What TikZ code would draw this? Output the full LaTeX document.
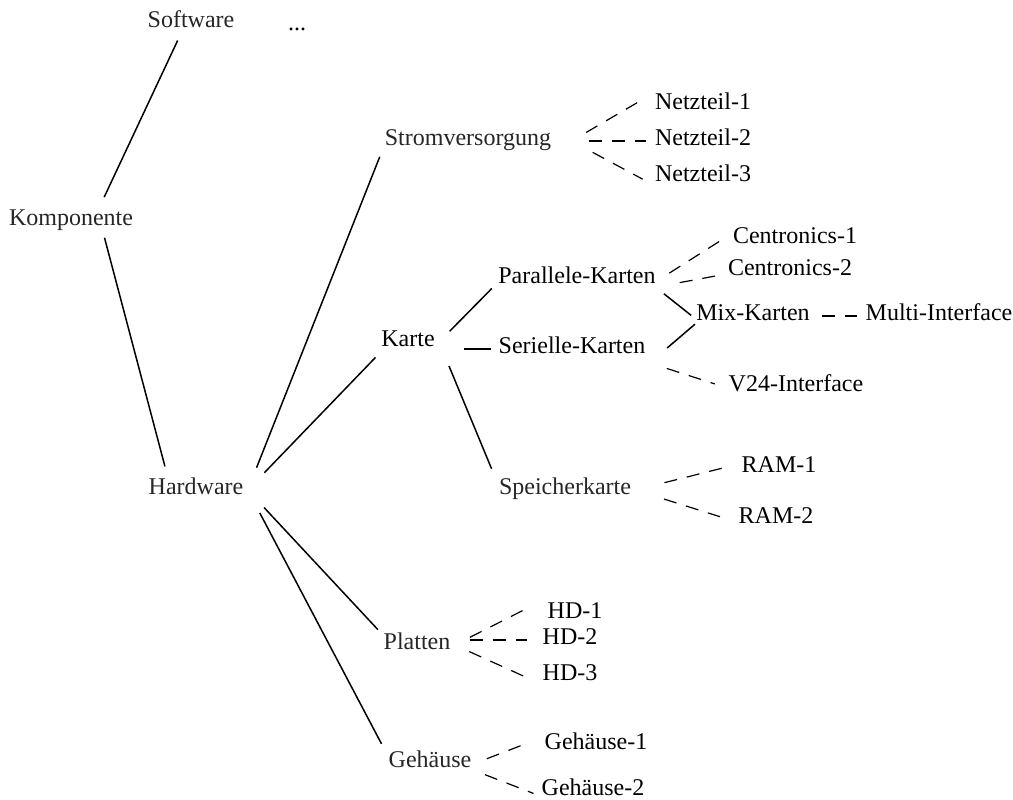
\documentclass[tikz,border=0pt]{standalone}
\usepackage{fontspec}
\setmainfont{Liberation Serif}
\usepackage{tikz}

\definecolor{innergray}{gray}{0.15}

\begin{document}
\begin{tikzpicture}[x=0.5pt,y=-0.5pt,
        lbl/.style={inner sep=2pt, text height=0.7em, text depth=0.25em,
                    font=\fontsize{12}{14}\selectfont},
        inner/.style={lbl, text=innergray},
        branch/.style={line width=0.75pt},
        leafline/.style={line width=0.6pt, dash pattern=on 6.5pt off 5pt}]
        \useasboundingbox (0,0) rectangle (1013,799);
        % upper levels
        \node[inner] (soft) at (191,23) {Software};
        \node[lbl] (dots) at (297,26) {...};
        \node[inner] (komp) at (71,221) {Komponente};
        \node[inner] (hw) at (196,490) {Hardware};
        \node[inner] (strom) at (468,141) {Stromversorgung};
        \node[lbl] (karte) at (408,342) {Karte};
        \node[inner] (platten) at (417,645) {Platten};
        \node[inner] (geh) at (430,763) {Geh\"ause};
        % cards
        \node[lbl] (par) at (577,279) {Parallele-Karten};
        \node[lbl] (ser) at (572,349) {Serielle-Karten};
        \node[inner] (speich) at (565,490) {Speicherkarte};
        \node[lbl] (mix) at (753,316) {Mix-Karten};
        % leaves
        \node[lbl] (n1) at (703,105) {Netzteil-1};
        \node[lbl] (n2) at (703,141) {Netzteil-2};
        \node[lbl] (n3) at (703,177) {Netzteil-3};
        \node[lbl] (cen1) at (795,239) {Centronics-1};
        \node[lbl] (cen2) at (790,271) {Centronics-2};
        \node[lbl] (multi) at (939,316) {Multi-Interface};
        \node[lbl] (v24) at (796,387) {V24-Interface};
        \node[lbl] (ram1) at (779,468) {RAM-1};
        \node[lbl] (ram2) at (776,519) {RAM-2};
        \node[lbl] (hd1) at (575,614) {HD-1};
        \node[lbl] (hd2) at (570,640) {HD-2};
        \node[lbl] (hd3) at (570,676) {HD-3};
        \node[lbl] (geh1) at (596,745) {Geh\"ause-1};
        \node[lbl] (geh2) at (593,791) {Geh\"ause-2};

        % solid branches
        \draw[branch, shorten <=2pt, shorten >=5.5pt] (soft.230) -- (komp.26);
        \draw[branch, shorten <=1.5pt, shorten >=5pt] (komp.337) -- (hw.154);
        \draw[branch, shorten <=12pt, shorten >=1pt] (hw.east) -- (strom.south west);
        \draw[branch, shorten <=12pt, shorten >=1pt] (hw.east) -- (karte.south west);
        \draw[branch, shorten <=12pt, shorten >=1pt] (hw.east) -- (platten.north west);
        \draw[branch, shorten <=13pt, shorten >=3pt] (hw.east) -- (geh.north west);
        \draw[branch, shorten <=7.5pt, shorten >=1.5pt] (karte.east) -- (par.185);
        \draw[branch, shorten <=12.5pt, shorten >=1.5pt] (karte.east |- ser.west) -- (ser.west);
        \draw[branch, shorten <=13pt, shorten >=4pt] (karte.east) -- (speich.north west);
        \draw[branch, shorten <=2.5pt, shorten >=0.5pt] (par.352) -- (mix.west);
        \draw[branch, shorten <=11.5pt, shorten >=-2pt] (ser.south east) -- (mix.190);

        % dashed leaves
        \draw[leafline, shorten <=8.5pt, shorten >=6pt] ([xshift=8pt]strom.east) -- (n1.169);
        \draw[leafline, shorten <=8.5pt, shorten >=2.5pt] ([xshift=8pt]strom.east) -- (n2.west);
        \draw[leafline, shorten <=12pt, shorten >=4.5pt] ([xshift=8pt]strom.east) -- (n3.187);
        \draw[leafline, shorten <=5.5pt, shorten >=3pt] (par.east) -- (cen1.177);
        \draw[leafline, shorten <=10pt] (par.355) -- (cen2.183);
        \draw[leafline, shorten <=4pt, shorten >=2pt] (mix.east) -- (multi.west);
        \draw[leafline, shorten <=9pt, shorten >=5pt] (ser.south east) -- (v24.west);
        \draw[leafline, shorten <=15pt, shorten >=8pt] (speich.east) -- (ram1.175);
        \draw[leafline, shorten <=15pt, shorten >=7.5pt] (speich.east) -- (ram2.183);
        \draw[leafline, shorten <=8.5pt, shorten >=11.5pt] (platten.east) -- (hd1.north west);
        \draw[leafline, shorten <=7.5pt, shorten >=5.5pt] (platten.east |- hd2.west) -- (hd2.west);
        \draw[leafline, shorten <=8pt, shorten >=7pt] (platten.east) -- (hd3.192);
        \draw[leafline, shorten <=6pt, shorten >=7.5pt] (geh.east) -- (geh1.173);
        \draw[leafline, shorten <=5pt, shorten >=2pt] (geh.350) -- (geh2.184);
\end{tikzpicture}
\end{document}
